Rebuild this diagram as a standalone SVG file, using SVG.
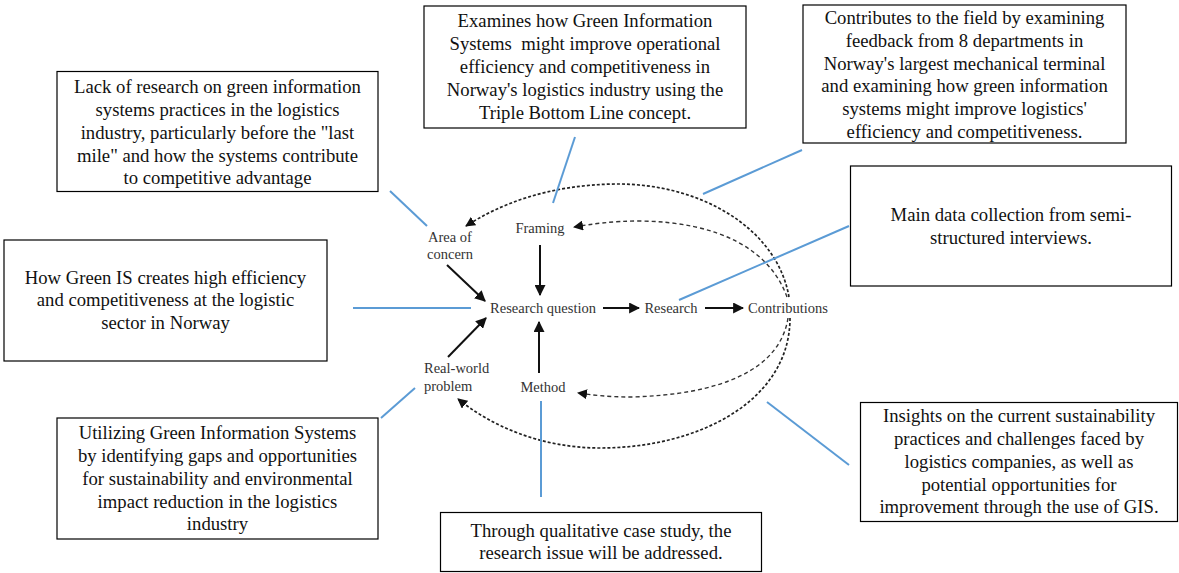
<svg xmlns="http://www.w3.org/2000/svg" width="1179" height="573" viewBox="0 0 1179 573">
  <style>
    .box { fill: #ffffff; stroke: #000000; stroke-width: 1.2; }
    .btxt { font-family: "Liberation Serif", "Times New Roman", serif; font-size: 18.7px; fill: #111111; text-anchor: middle; white-space: pre; }
    .ltxt { font-family: "Liberation Serif", "Times New Roman", serif; font-size: 14.5px; fill: #333333; }
    .mid { text-anchor: middle; }
    .link { stroke: #5b9bd5; stroke-width: 2; fill: none; }
    .flow { stroke: #111111; stroke-width: 2; fill: none; marker-end: url(#solidHead); }
    .loopOuter { stroke: #222222; stroke-width: 1.7; fill: none; stroke-dasharray: 3 2; marker-end: url(#dashHead); }
    .loopInner { stroke: #333333; stroke-width: 1.4; fill: none; stroke-dasharray: 4 3; marker-end: url(#dashHead); }
  </style>
  <defs>
    <marker id="solidHead" viewBox="0 0 10 10" refX="9" refY="5" markerWidth="5.5" markerHeight="5.5" orient="auto" markerUnits="strokeWidth">
      <path d="M0,0 L10,5 L0,10 Z" fill="#111111"/>
    </marker>
    <marker id="dashHead" viewBox="0 0 10 10" refX="9" refY="5" markerWidth="10" markerHeight="10" orient="auto" markerUnits="userSpaceOnUse">
      <path d="M0,0 L10,5 L0,10 Z" fill="#111111"/>
    </marker>
  </defs>

  <rect width="1179" height="573" fill="#ffffff"/>

  <!-- central cycle labels -->
  <g id="area-of-concern">
    <text class="ltxt mid" x="450" y="242">Area of</text>
    <text class="ltxt mid" x="450" y="259">concern</text>
  </g>
  <g id="framing">
    <text class="ltxt mid" x="540" y="233">Framing</text>
  </g>
  <g id="research-question">
    <text class="ltxt mid" x="543" y="313">Research question</text>
  </g>
  <g id="research">
    <text class="ltxt mid" x="671" y="313">Research</text>
  </g>
  <g id="contributions">
    <text class="ltxt mid" x="788" y="313">Contributions</text>
  </g>
  <g id="real-world-problem">
    <text class="ltxt" x="424" y="373">Real-world</text>
    <text class="ltxt" x="424" y="391">problem</text>
  </g>
  <g id="method">
    <text class="ltxt mid" x="543" y="392">Method</text>
  </g>

  <!-- annotation boxes -->
  <g id="note-area-of-concern">
    <rect class="box" x="57" y="71.5" width="321" height="120"/>
    <text class="btxt" x="217.5" y="93">Lack of research on green information</text>
    <text class="btxt" x="217.5" y="116">systems practices in the logistics</text>
    <text class="btxt" x="217.5" y="139">industry, particularly before the "last</text>
    <text class="btxt" x="217.5" y="162">mile" and how the systems contribute</text>
    <text class="btxt" x="217.5" y="184">to competitive advantage</text>
  </g>
  <g id="note-framing">
    <rect class="box" x="424" y="6" width="322" height="122"/>
    <text class="btxt" x="585" y="27">Examines how Green Information</text>
    <text class="btxt" x="585" y="50">Systems  might improve operational</text>
    <text class="btxt" x="585" y="73">efficiency and competitiveness in</text>
    <text class="btxt" x="585" y="96">Norway's logistics industry using the</text>
    <text class="btxt" x="585" y="119">Triple Bottom Line concept.</text>
  </g>
  <g id="note-contributions">
    <rect class="box" x="803" y="5" width="323" height="138"/>
    <text class="btxt" x="964.5" y="24">Contributes to the field by examining</text>
    <text class="btxt" x="964.5" y="47">feedback from 8 departments in</text>
    <text class="btxt" x="964.5" y="70">Norway's largest mechanical terminal</text>
    <text class="btxt" x="964.5" y="92">and examining how green information</text>
    <text class="btxt" x="964.5" y="115">systems might improve logistics'</text>
    <text class="btxt" x="964.5" y="138">efficiency and competitiveness.</text>
  </g>
  <g id="note-research-question">
    <rect class="box" x="4" y="240" width="323" height="121"/>
    <text class="btxt" x="165.5" y="284">How Green IS creates high efficiency</text>
    <text class="btxt" x="165.5" y="306">and competitiveness at the logistic</text>
    <text class="btxt" x="165.5" y="329">sector in Norway</text>
  </g>
  <g id="note-research">
    <rect class="box" x="850.5" y="166" width="321" height="120"/>
    <text class="btxt" x="1011" y="221">Main data collection from semi-</text>
    <text class="btxt" x="1011" y="244">structured interviews.</text>
  </g>
  <g id="note-real-world-problem">
    <rect class="box" x="57" y="418" width="321" height="121"/>
    <text class="btxt" x="217.5" y="439">Utilizing Green Information Systems</text>
    <text class="btxt" x="217.5" y="462">by identifying gaps and opportunities</text>
    <text class="btxt" x="217.5" y="485">for sustainability and environmental</text>
    <text class="btxt" x="217.5" y="508">impact reduction in the logistics</text>
    <text class="btxt" x="217.5" y="530">industry</text>
  </g>
  <g id="note-insights">
    <rect class="box" x="860.5" y="402.5" width="317" height="119"/>
    <text class="btxt" x="1019" y="422">Insights on the current sustainability</text>
    <text class="btxt" x="1019" y="445">practices and challenges faced by</text>
    <text class="btxt" x="1019" y="468">logistics companies, as well as</text>
    <text class="btxt" x="1019" y="491">potential opportunities for</text>
    <text class="btxt" x="1019" y="513">improvement through the use of GIS.</text>
  </g>
  <g id="note-method">
    <rect class="box" x="440.5" y="512.5" width="321" height="59"/>
    <text class="btxt" x="601" y="537">Through qualitative case study, the</text>
    <text class="btxt" x="601" y="559">research issue will be addressed.</text>
  </g>

  <!-- connectors -->
  <g id="connectors">
    <!-- main flow -->
    <line class="flow" x1="540" y1="245" x2="540" y2="295"/>
    <line class="flow" x1="447" y1="265" x2="485" y2="301"/>
    <line class="flow" x1="448" y1="357" x2="486" y2="318"/>
    <line class="flow" x1="539" y1="373" x2="539" y2="322"/>
    <line class="flow" x1="603" y1="308" x2="639" y2="308"/>
    <line class="flow" x1="705" y1="308" x2="743" y2="308"/>

    <!-- feedback loops from contributions -->
    <path class="loopOuter" d="M789,297 C777,228 700,183 615,184 C548,185 500,204 466,226"/>
    <path class="loopInner" d="M787,297 C770,250 720,222 640,221 C612,221 592,224 574,227"/>
    <path class="loopInner" d="M788,318 C780,370 720,395 630,397 C610,397 592,395 578,393"/>
    <path class="loopOuter" d="M790,318 C790,400 700,448 600,448 C540,448 490,425 458,399"/>

    <!-- note links -->
    <line class="link" x1="390" y1="191" x2="427" y2="226"/>
    <line class="link" x1="575" y1="137" x2="553" y2="203"/>
    <line class="link" x1="802" y1="150" x2="703" y2="194"/>
    <line class="link" x1="849" y1="226" x2="679" y2="300"/>
    <line class="link" x1="353" y1="308" x2="471" y2="308"/>
    <line class="link" x1="381" y1="418" x2="415" y2="388"/>
    <line class="link" x1="541" y1="401" x2="541" y2="497"/>
    <line class="link" x1="767" y1="402" x2="849" y2="465"/>
  </g>
</svg>
